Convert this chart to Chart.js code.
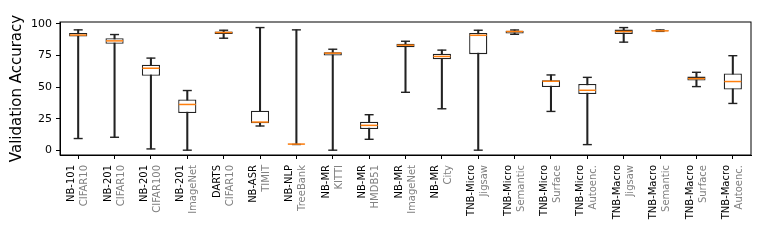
<!DOCTYPE html>
<html>

<head>
  <title>Validation Accuracy</title>
  <script src="https://cdn.jsdelivr.net/npm/chart.js@4/dist/chart.umd.min.js"></script>
  <style>
    body {
      margin: 0;
      padding: 0;
      background-color: #fff;
    }

    .chart-container {
      position: relative;
      width: 761px;
      height: 242px;
    }
  </style>
</head>

<body>
  <div class="chart-container">
    <canvas id="boxChart"></canvas>
  </div>

  <script>
    // benchmark (first label line) and task (second label line)
    const benchLabels = ['NB-101', 'NB-201', 'NB-201', 'NB-201', 'DARTS', 'NB-ASR', 'NB-NLP', 'NB-MR', 'NB-MR',
      'NB-MR', 'NB-MR', 'TNB-Micro', 'TNB-Micro', 'TNB-Micro', 'TNB-Micro', 'TNB-Macro', 'TNB-Macro',
      'TNB-Macro', 'TNB-Macro'];
    const taskLabels = ['CIFAR10', 'CIFAR10', 'CIFAR100', 'ImageNet', 'CIFAR10', 'TIMIT', 'TreeBank', 'KITTI',
      'HMDB51', 'ImageNet', 'City', 'Jigsaw', 'Semantic', 'Surface', 'Autoenc.', 'Jigsaw', 'Semantic',
      'Surface', 'Autoenc.'];

    // box plot statistics
    const mins = [9.5, 10.5, 1.3, 0.3, 88.7, 19.4, 4.8, 0.3, 8.9, 46, 33, 0.3, 91.8, 30.9, 4.7, 85.6, 94.1, 50.5, 37.2];
    const q1s = [90, 84.3, 59, 29.6, 92.1, 21.5, 4.9, 75.1, 17, 81.6, 72, 76.1, 92.4, 50.2, 44.7, 92.1, 94.3, 55.3, 48.2];
    const medians = [91.2, 86.6, 65, 36.4, 93.2, 22.5, 5.1, 76.9, 19.9, 83.2, 74.3, 91, 94, 54.7, 47.6, 94, 94.5, 56.8, 54.5];
    const q3s = [92.9, 88.7, 67.8, 40.3, 94, 31.4, 5.3, 77.7, 22.8, 84.3, 76.4, 92.9, 94.6, 55.5, 52.6, 95.5, 94.8, 58.4, 60.8];
    const maxs = [95.3, 91.6, 73, 47.4, 95, 97.1, 95.3, 80, 28.3, 86.3, 79.3, 95, 95.2, 59.7, 57.8, 97.1, 95.2, 61.8, 74.9];

    const yTicks = [0, 25, 50, 75, 100];

    const frameBox = {
      id: 'frameBox',
      afterLayout(chart) {
        // put the gray second-line labels alongside the first-line labels
        const x = chart.scales.x;
        const x2 = chart.scales.x2;
        x2.top = x.top;
        x2.bottom = x.bottom;
      },
      afterDraw(chart) {
        const { ctx, chartArea } = chart;
        ctx.save();
        ctx.strokeStyle = '#000';
        ctx.lineWidth = 1;
        ctx.strokeRect(chartArea.left, chartArea.top, chartArea.right - chartArea.left, chartArea.bottom - chartArea.top);
        ctx.restore();
      }
    };

    const ctx = document.getElementById('boxChart').getContext('2d');

    new Chart(ctx, {
      type: 'bar',
      data: {
        labels: benchLabels,
        datasets: [{
          label: 'whisker',
          data: mins.map((m, i) => [m, maxs[i]]),
          backgroundColor: '#222',
          barThickness: 1.4,
          grouped: false,
          order: 3,
        }, {
          label: 'box',
          data: q1s.map((q, i) => [q, q3s[i]]),
          backgroundColor: '#fff',
          borderColor: '#222',
          borderWidth: 1.3,
          borderSkipped: false,
          barPercentage: 0.5,
          categoryPercentage: 1,
          grouped: false,
          order: 2,
        }, {
          type: 'line',
          label: 'min',
          data: mins,
          showLine: false,
          pointStyle: 'line',
          pointRadius: 4.5,
          pointBorderWidth: 1.4,
          borderColor: '#222',
          order: 1,
        }, {
          type: 'line',
          label: 'max',
          data: maxs,
          showLine: false,
          pointStyle: 'line',
          pointRadius: 4.5,
          pointBorderWidth: 1.4,
          borderColor: '#222',
          order: 1,
        }, {
          type: 'line',
          label: 'median',
          data: medians,
          showLine: false,
          pointStyle: 'line',
          pointRadius: 8.5,
          pointBorderWidth: 1.5,
          borderColor: '#ff7f0e',
          pointBorderColor: '#ff7f0e',
          order: 0,
        }],
      },
      options: {
        responsive: true,
        maintainAspectRatio: false,
        animation: false,
        events: [],
        layout: {
          padding: { left: 0, right: 6, top: 22, bottom: 0 },
        },
        plugins: {
          legend: { display: false },
          tooltip: { enabled: false },
        },
        scales: {
          x: {
            type: 'category',
            offset: true,
            afterFit: (s) => { s.height = 87; },
            grid: {
              offset: false,
              drawOnChartArea: false,
              tickLength: 4,
              color: '#000',
            },
            border: { color: '#000' },
            ticks: {
              autoSkip: false,
              minRotation: 90,
              maxRotation: 90,
              padding: 6,
              labelOffset: -6.5,
              color: '#000',
              font: { family: 'DejaVu Sans', size: 10 },
            },
          },
          x2: {
            type: 'category',
            labels: taskLabels,
            position: 'bottom',
            offset: true,
            afterFit: (s) => { s.height = 0; },
            grid: { display: false, drawTicks: false },
            border: { display: false },
            ticks: {
              autoSkip: false,
              minRotation: 90,
              maxRotation: 90,
              padding: 10,
              labelOffset: 6.5,
              color: '#808080',
              font: { family: 'DejaVu Sans', size: 10 },
            },
          },
          y: {
            min: -3.5,
            max: 101.5,
            afterFit: (s) => { s.width = 60; },
            afterBuildTicks: (s) => { s.ticks = yTicks.map(v => ({ value: v })); },
            grid: {
              drawOnChartArea: false,
              tickLength: 4,
              color: '#000',
            },
            border: { color: '#000' },
            ticks: {
              padding: 4,
              color: '#000',
              font: { family: 'DejaVu Sans', size: 11 },
            },
            title: {
              display: true,
              text: 'Validation Accuracy',
              color: '#000',
              padding: { top: 8, bottom: 0 },
              font: { family: 'DejaVu Sans', size: 15 },
            },
          },
        },
      },
      plugins: [frameBox],
    });
  </script>
</body>

</html>
